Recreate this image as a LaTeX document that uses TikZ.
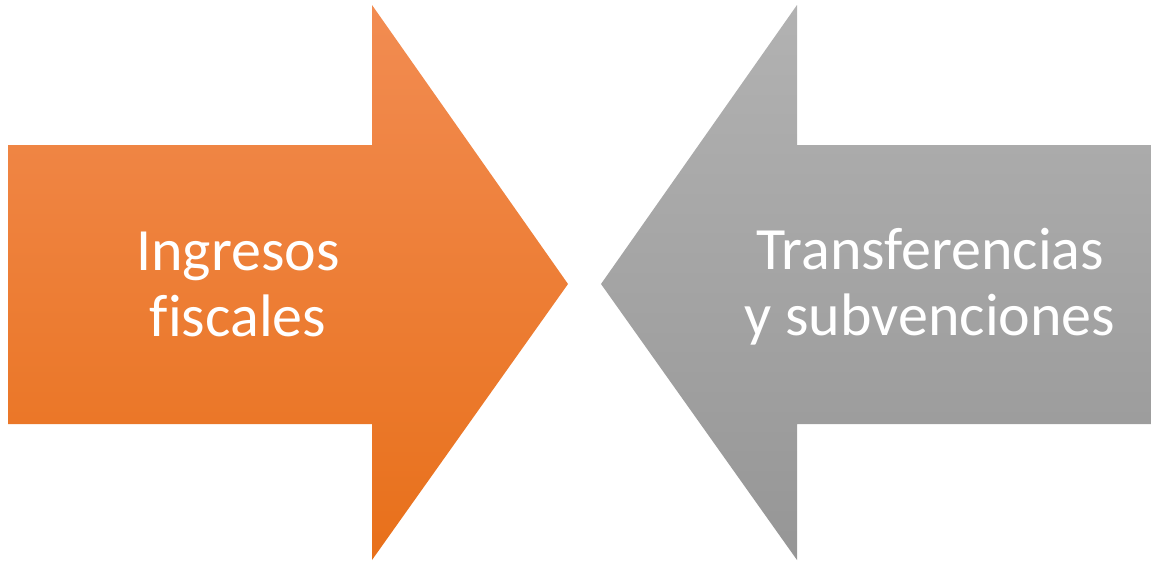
\documentclass[tikz,border=0pt]{standalone}
\usepackage{fontspec}
\setmainfont[Ligatures=NoCommon]{Carlito}
\begin{document}
\begin{tikzpicture}[x=1pt,y=-1pt,
  lbl/.style={text=white,font=\fontsize{60}{66}\selectfont,align=center,inner sep=0pt}]
\useasboundingbox (0,0) rectangle (1151,560);
\path[top color={rgb,255:red,242;green,140;blue,82},bottom color={rgb,255:red,232;green,112;blue,26}]
  (8,145) -- (372,145) -- (372,5) -- (568,284) -- (372,560) -- (372,424) -- (8,424) -- cycle;
\path[top color={rgb,255:red,178;green,178;blue,178},bottom color={rgb,255:red,150;green,150;blue,150}]
  (1151,145) -- (797,145) -- (797,5) -- (601,284) -- (797,560) -- (797,424) -- (1151,424) -- cycle;
\node[lbl] (left) at (238,284) {Ingresos\\fiscales};
\node[lbl] (right) at (930,287) {Transferencias\\y subvenciones};
\end{tikzpicture}
\end{document}
